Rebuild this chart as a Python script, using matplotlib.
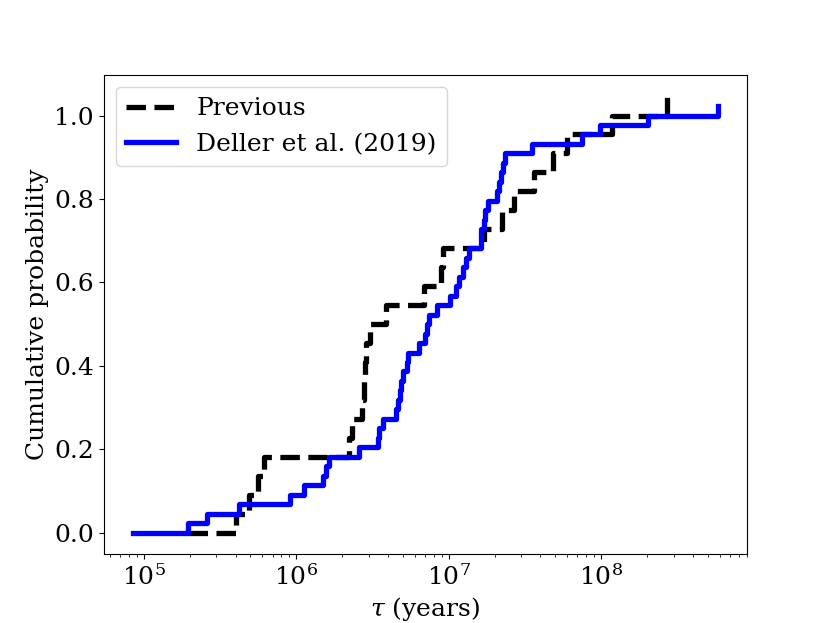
import matplotlib
matplotlib.use('Agg')
import matplotlib.pyplot as plt
import numpy as np

plt.rcParams['font.family'] = 'DejaVu Serif'
plt.rcParams['mathtext.fontset'] = 'dejavuserif'
plt.rcParams['font.size'] = 18

# sorted characteristic ages (years)
tau_previous = [1.94e5, 4.0e5, 4.91e5, 5.58e5, 6.11e5, 2.21e6, 2.31e6, 2.72e6,
                2.77e6, 2.81e6, 2.85e6, 3.03e6, 3.91e6, 6.94e6, 8.92e6, 9.19e6,
                1.71e7, 2.25e7, 2.68e7, 3.62e7, 4.83e7, 5.98e7, 1.18e8, 2.71e8]

tau_deller = [8.5e4, 1.94e5, 2.59e5, 4.21e5, 9.14e5, 1.12e6, 1.51e6, 1.56e6,
              1.63e6, 2.58e6, 3.45e6, 3.52e6, 3.73e6, 4.49e6, 4.68e6, 4.78e6,
              4.89e6, 5.0e6, 5.33e6, 5.43e6, 6.44e6, 7.05e6, 7.23e6, 7.48e6,
              8.4e6, 1.02e7, 1.12e7, 1.17e7, 1.24e7, 1.30e7, 1.36e7, 1.63e7,
              1.64e7, 1.70e7, 1.72e7, 1.81e7, 2.07e7, 2.13e7, 2.20e7, 2.26e7,
              2.33e7, 3.54e7, 7.50e7, 9.87e7, 2.04e8, 5.83e8]


def cumulative(tau):
    n = len(tau)
    return np.arange(n) / (n - 2)


fig = plt.figure(figsize=(8.3, 6.23), dpi=100)
ax = plt.subplot(111)
ax.step(tau_previous, cumulative(tau_previous), where='post', color='black',
        linestyle='--', linewidth=3.8, label='Previous')
ax.step(tau_deller, cumulative(tau_deller), where='post', color='blue',
        linewidth=3.8, label='Deller et al. (2019)')
ax.set_xscale('log')
ax.set_xlabel(r'$\tau$ (years)')
ax.set_ylabel('Cumulative probability')
ax.legend(loc='upper left')
plt.savefig('out.png', dpi=100)
